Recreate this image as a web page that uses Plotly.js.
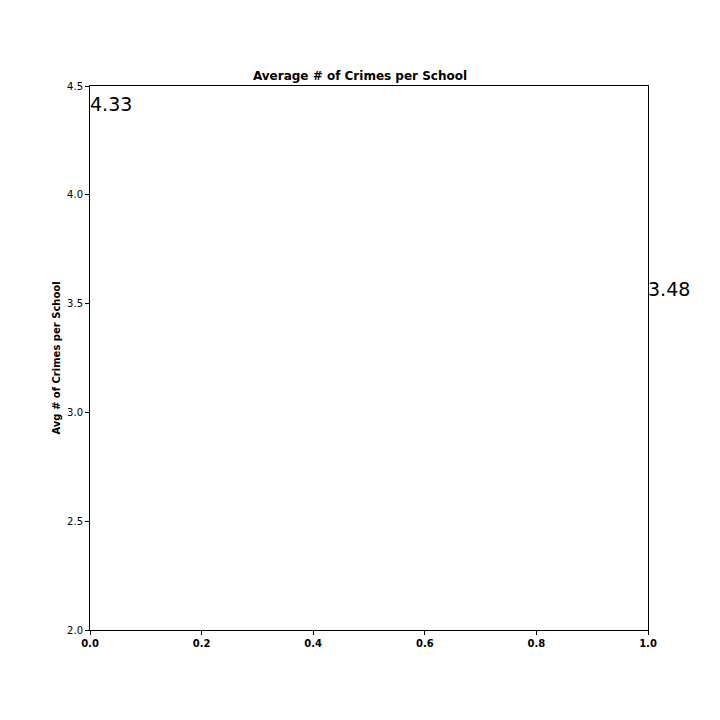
<!DOCTYPE html>
<html>
<head>
<meta charset="utf-8">
<script src="https://cdn.plot.ly/plotly-3.0.1.min.js"></script>
<style>body{margin:0;background:#fff}#chart{width:720px;height:720px}</style>
</head>
<body>
<div id="chart"></div>
<script>
// label positions (x in axis units, y = avg crimes)
const labelX = [0, 1];
const labelY = [4.33, 3.48];
const xTicks = [0, 0.2, 0.4, 0.6, 0.8, 1.0];
const yTicks = [2.0, 2.5, 3.0, 3.5, 4.0, 4.5];

const font = 'DejaVu Sans, sans-serif';

const data = [{ type: 'scatter', mode: 'markers', x: labelX, y: labelY,
  marker: { opacity: 0 }, hoverinfo: 'skip', showlegend: false }];

const layout = {
  width: 720, height: 720,
  paper_bgcolor: '#fff', plot_bgcolor: '#fff',
  font: { family: font, color: '#000', size: 10 },
  margin: { l: 90, r: 72, t: 86, b: 90 },
  title: { text: '<b>Average # of Crimes per School</b>', font: { size: 12 }, x: 0.5, xanchor: 'center', y: 1 - 76 / 720, yanchor: 'middle' },
  xaxis: { range: [0, 1], tickvals: xTicks, ticktext: xTicks.map(v => '<b>' + v.toFixed(1) + '</b>'),
    showgrid: false, zeroline: false, showline: true, mirror: true, linecolor: '#000', linewidth: 1,
    ticks: 'outside', ticklen: 4, tickcolor: '#000' },
  yaxis: { range: [2, 4.5], tickvals: yTicks, ticktext: yTicks.map(v => v.toFixed(1)),
    showgrid: false, zeroline: false, showline: true, mirror: true, linecolor: '#000', linewidth: 1,
    ticks: 'outside', ticklen: 4, tickcolor: '#000',
    title: { text: '<b>Avg # of Crimes per School</b>', font: { size: 10 }, standoff: 4 } },
  annotations: labelX.map((x, i) => ({
    x: x, y: labelY[i], xref: 'x', yref: 'y', text: labelY[i].toFixed(2),
    showarrow: false, xanchor: 'left', yanchor: 'bottom', yshift: 6, xshift: -2,
    font: { size: 19, family: font, color: '#000' }
  }))
};

Plotly.newPlot('chart', data, layout, { displayModeBar: false, staticPlot: true });
</script>
</body>
</html>
